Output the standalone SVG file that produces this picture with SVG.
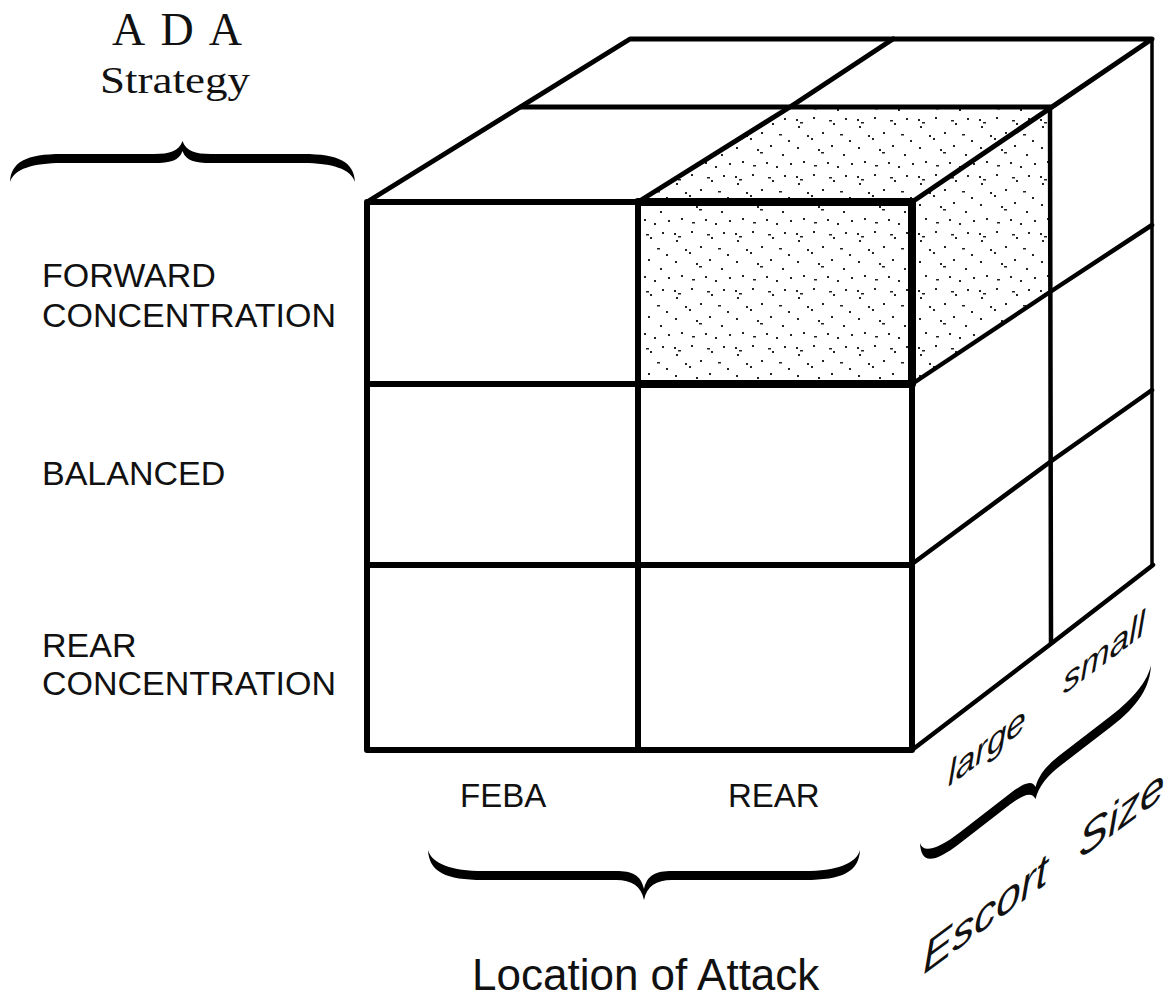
<svg xmlns="http://www.w3.org/2000/svg" width="1168" height="1004" viewBox="0 0 1168 1004">
<defs>
<style>
.ln{fill:none;stroke:#000;stroke-linecap:round;stroke-linejoin:round}
.front{stroke-width:6}
.top{stroke-width:5}
.side{stroke-width:4.5}
.back{stroke-width:3.5}
.sans{font-family:"Liberation Sans",Arial,sans-serif;fill:#111}
.serif{font-family:"Liberation Serif","Times New Roman",serif;fill:#111}
.brace{fill:#000}
</style>
<pattern id="stip" patternUnits="userSpaceOnUse" width="61" height="57">
<rect width="61" height="57" fill="#fff"/>
<g fill="#222">
<rect x="3" y="5" width="2" height="2"/><rect x="7" y="8" width="3" height="1.5"/><rect x="5" y="12" width="2" height="2"/>
<rect x="20" y="3" width="2" height="2"/><rect x="36" y="6" width="3" height="1.5"/><rect x="40" y="9" width="2" height="2"/>
<rect x="52" y="4" width="2" height="2"/><rect x="14" y="21" width="2" height="2"/><rect x="18" y="24" width="2" height="2"/>
<rect x="29" y="18" width="2" height="2"/><rect x="47" y="20" width="3" height="1.5"/><rect x="56" y="26" width="2" height="2"/>
<rect x="4" y="33" width="2" height="2"/><rect x="25" y="35" width="2" height="2"/><rect x="28" y="38" width="3" height="1.5"/>
<rect x="38" y="31" width="2" height="2"/><rect x="50" y="40" width="2" height="2"/><rect x="10" y="47" width="2" height="2"/>
<rect x="21" y="51" width="3" height="1.5"/><rect x="34" y="48" width="2" height="2"/><rect x="44" y="52" width="2" height="2"/>
<rect x="58" y="49" width="2" height="2"/>
</g>
</pattern>
</defs>
<rect width="1168" height="1004" fill="#fff"/>

<g id="cube">
  <g id="shaded-cell">
    <polygon points="638,202 912,202 1050,107 790,107" fill="url(#stip)"/>
    <rect x="638" y="202" width="274" height="182" fill="url(#stip)"/>
    <polygon points="912,202 1050,107 1050,292 912,384" fill="url(#stip)"/>
  </g>
  <g id="top-face">
    <path class="ln top" d="M367,202 L630,39 L1152,39 L912,202"/>
    <path class="ln top" d="M521,107 L1050,107"/>
    <path class="ln top" d="M638,202 L790,107 L893,39"/>
  </g>
  <g id="right-face">
    <path class="ln back" d="M1152,39 L1152,565"/>
    <path class="ln side" d="M1050,107 L1051,643"/>
    <path class="ln side" d="M912,384 L1050,292 L1152,225"/>
    <path class="ln side" d="M912,564 L1050,462 L1152,390"/>
    <path class="ln side" d="M912,750 L1052,643 L1153,565"/>
  </g>
  <g id="front-face">
    <rect class="ln front" x="367" y="202" width="545" height="548"/>
    <path class="ln front" d="M638,202 L638,750"/>
    <path class="ln front" d="M367,384 L912,384"/>
    <path class="ln front" d="M367,565 L912,565"/>
    <path class="ln" stroke-width="8" d="M638,202 L912,202 M638,384 L912,384 M912,202 L912,384"/>
  </g>
</g>

<g id="braces">
  <path id="brace-strategy" class="brace" transform="translate(10,182) scale(1,-1)"
    d="M0,0 C1,20 16,28 52,28 L144,28 C160,28 169,31 172.5,41 C176,31 185,28 201,28 L293,28 C329,28 344,20 345,0 C341,13 322,19 293,19 L201,19 C185,19 176,21 172.5,31 C169,21 160,19 144,19 L52,19 C23,19 4,13 0,0 Z"/>
  <path id="brace-location" class="brace" transform="translate(428,850)"
    d="M0,0 C1,22 18,30 55,30 L188,30 C204,30 213,36 216,50 C219,36 228,30 244,30 L377,30 C414,30 431,22 432,0 C428,14 408,21 377,21 L244,21 C228,21 219,25 216,39 C213,25 204,21 188,21 L55,21 C24,21 4,14 0,0 Z"/>
  <path id="brace-escort" class="brace" transform="matrix(1,-0.771,0,1,920,843)"
    d="M0,0 C1,21 12,31 40,31 L90,31 C104,31 112,35 115.5,45 C119,35 127,31 141,31 L191,31 C219,31 230,21 231,0 C228,13 214,20 191,20 L141,20 C127,20 119,23 115.5,33 C112,23 104,20 90,20 L40,20 C18,20 3,13 0,0 Z"/>
</g>

<g id="labels">
  <g id="title-ada">
    <text class="serif" x="112" y="45" font-size="46" textLength="130" lengthAdjust="spacing">A D A</text>
    <text class="serif" x="100" y="93" font-size="38" textLength="150" lengthAdjust="spacingAndGlyphs">Strategy</text>
  </g>
  <g id="row-labels" class="sans" font-size="34">
    <text class="sans" x="42" y="287">FORWARD</text>
    <text class="sans" x="42" y="327">CONCENTRATION</text>
    <text class="sans" x="42" y="485">BALANCED</text>
    <text class="sans" x="42" y="657">REAR</text>
    <text class="sans" x="42" y="695">CONCENTRATION</text>
  </g>
  <g id="column-labels">
    <text class="sans" x="460" y="807" font-size="33">FEBA</text>
    <text class="sans" x="728" y="807" font-size="33">REAR</text>
    <text class="sans" x="472" y="990" font-size="44">Location of Attack</text>
  </g>
  <g id="escort-labels" font-style="italic">
    <text class="sans" font-size="35" transform="matrix(1,-0.75,0,1,948,787)">large</text>
    <text class="sans" font-size="35" transform="matrix(1,-0.75,0,1,1063,695)">small</text>
    <text class="sans" font-size="44" word-spacing="19" transform="matrix(1,-0.74,0,1,923,975)">Escort Size</text>
  </g>
</g>
</svg>
